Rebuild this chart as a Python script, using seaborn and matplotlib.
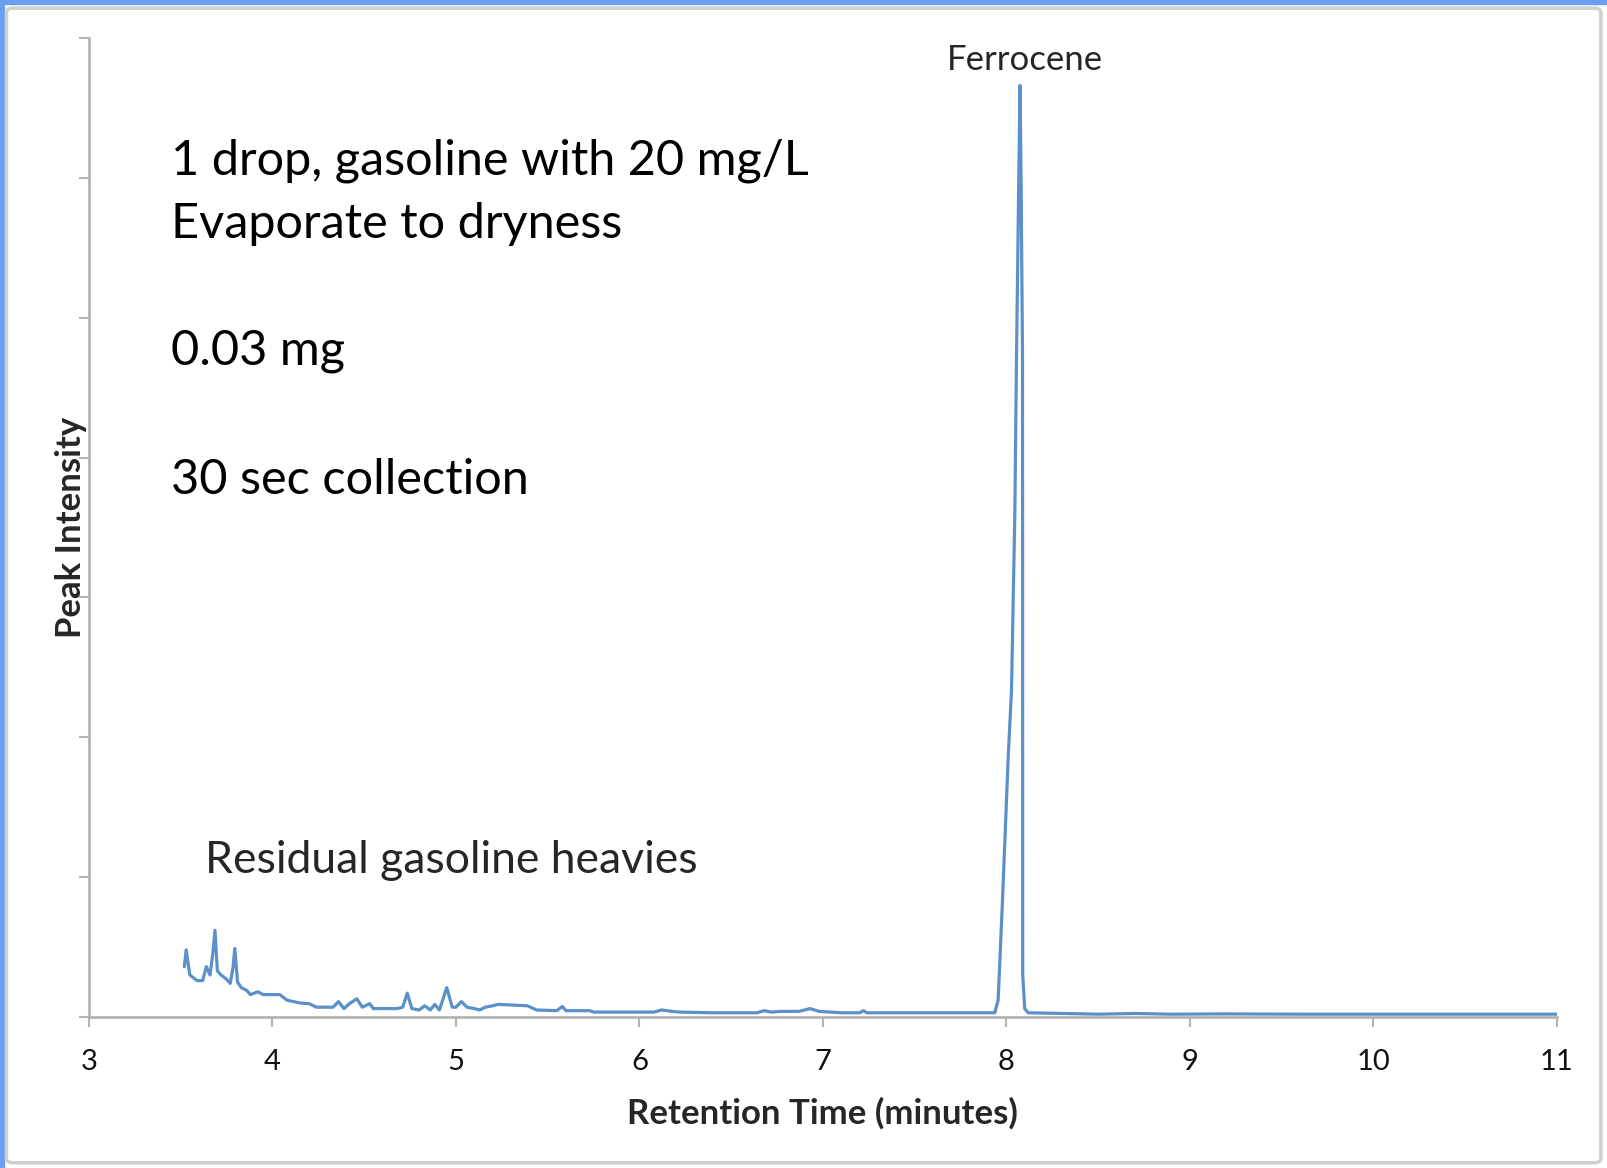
import matplotlib.pyplot as plt
import matplotlib.patches as mpatches
import pandas as pd
import seaborn as sns

# Chromatogram trace (time in minutes, intensity in y-tick units)
time_min = [3.52, 3.53, 3.55, 3.59, 3.62, 3.64, 3.66, 3.675, 3.687, 3.70, 3.72, 3.75,
            3.77, 3.785, 3.795, 3.81, 3.83, 3.86, 3.88, 3.90, 3.92, 3.95, 4.04, 4.08,
            4.15, 4.20, 4.24, 4.33, 4.36, 4.39, 4.42, 4.46, 4.49, 4.53, 4.55, 4.68,
            4.71, 4.735, 4.76, 4.80, 4.83, 4.86, 4.885, 4.91, 4.95, 4.98, 5.00, 5.03,
            5.06, 5.10, 5.13, 5.16, 5.20, 5.23, 5.39, 5.44, 5.55, 5.58, 5.60, 5.73,
            5.75, 6.08, 6.12, 6.18, 6.22, 6.40, 6.64, 6.68, 6.72, 6.77, 6.87, 6.93,
            6.98, 7.10, 7.20, 7.22, 7.24, 7.90, 7.937, 7.955, 7.979, 8.010, 8.028,
            8.046, 8.055, 8.074, 8.080, 8.088, 8.089, 8.10, 8.119, 8.5, 8.7, 8.9,
            9.2, 9.6, 10.1, 10.6, 11.0]
intensity = [0.36, 0.48, 0.30, 0.26, 0.26, 0.36, 0.30, 0.45, 0.62, 0.33, 0.30, 0.27,
             0.24, 0.35, 0.49, 0.25, 0.21, 0.19, 0.16, 0.17, 0.18, 0.16, 0.16, 0.12,
             0.10, 0.095, 0.07, 0.07, 0.11, 0.06, 0.095, 0.13, 0.07, 0.095, 0.06, 0.06,
             0.07, 0.17, 0.06, 0.05, 0.08, 0.05, 0.09, 0.05, 0.21, 0.07, 0.07, 0.11,
             0.07, 0.06, 0.05, 0.07, 0.08, 0.09, 0.08, 0.05, 0.045, 0.075, 0.045, 0.045,
             0.035, 0.035, 0.05, 0.04, 0.035, 0.03, 0.03, 0.045, 0.035, 0.04, 0.04, 0.06,
             0.04, 0.03, 0.03, 0.045, 0.03, 0.03, 0.03, 0.12, 0.84, 1.86, 2.34,
             3.60, 4.70, 6.66, 6.0, 4.7, 0.3, 0.06, 0.03, 0.02, 0.025, 0.02,
             0.022, 0.02, 0.02, 0.02, 0.02]

x_ticks = [3, 4, 5, 6, 7, 8, 9, 10, 11]
y_ticks = [0, 1, 2, 3, 4, 5, 6, 7]
notes = ["1 drop, gasoline with 20 mg/L", "Evaporate to dryness", "0.03 mg", "30 sec collection"]

df = pd.DataFrame({"time": time_min, "intensity": intensity})

sns.set_style("white")
plt.rcParams["font.family"] = ["Lato", "DejaVu Sans"]

line_col = "#5b90c9"
axis_col = "#b4b4b4"

fig = plt.figure(figsize=(16.08, 11.68), dpi=100)
ax = fig.add_axes([0.0553, 0.1293, 0.9129, 0.8382])

sns.lineplot(data=df, x="time", y="intensity", ax=ax, estimator=None,
             color=line_col, linewidth=2.3)

ax.set_xlim(3, 11)
ax.set_ylim(0, 7)
ax.set_xticks(x_ticks)
ax.set_xticklabels([str(t) for t in x_ticks])
ax.set_yticks(y_ticks)
ax.set_yticklabels([])

# Excel style axes: only left and bottom, grey, ticks outside
for side in ["top", "right"]:
    ax.spines[side].set_visible(False)
for side in ["left", "bottom"]:
    ax.spines[side].set_color(axis_col)
    ax.spines[side].set_linewidth(2)
ax.tick_params(axis="both", direction="out", length=7, width=1.5, color=axis_col,
               left=True, bottom=True)
ax.tick_params(axis="x", labelsize=21, pad=16, labelcolor="#111111")

ax.set_xlabel("Retention Time (minutes)", fontsize=25, fontweight="bold", labelpad=16)
ax.set_ylabel("Peak Intensity", fontsize=25, fontweight="bold", labelpad=-9)

# Annotations
note_y = [6.12, 5.67, 4.76, 3.84]
for txt, yv in zip(notes, note_y):
    ax.text(3.45, yv, txt, fontsize=35, va="center", ha="left", color="#000000")
ax.text(3.63, 1.12, "Residual gasoline heavies", fontsize=32, va="center", ha="left")
ax.text(8.10, 6.84, "Ferrocene", fontsize=25, va="center", ha="center")

# Frame: blue edge top/left and a grey rounded border
fig.patches.append(mpatches.Rectangle((0, 0.997), 1, 0.003, transform=fig.transFigure,
                                      color="#6b9df0", zorder=0))
fig.patches.append(mpatches.Rectangle((0, 0), 0.0022, 1, transform=fig.transFigure,
                                      color="#6b9df0", zorder=0))
fig.patches.append(mpatches.FancyBboxPatch((0.0040, 0.0045), 0.9916, 0.9885,
                                           boxstyle="round,pad=0,rounding_size=0.004",
                                           transform=fig.transFigure, fill=False,
                                           edgecolor="#cfcfcf", linewidth=2.5, zorder=0))

fig.savefig("out.png", dpi=100)
